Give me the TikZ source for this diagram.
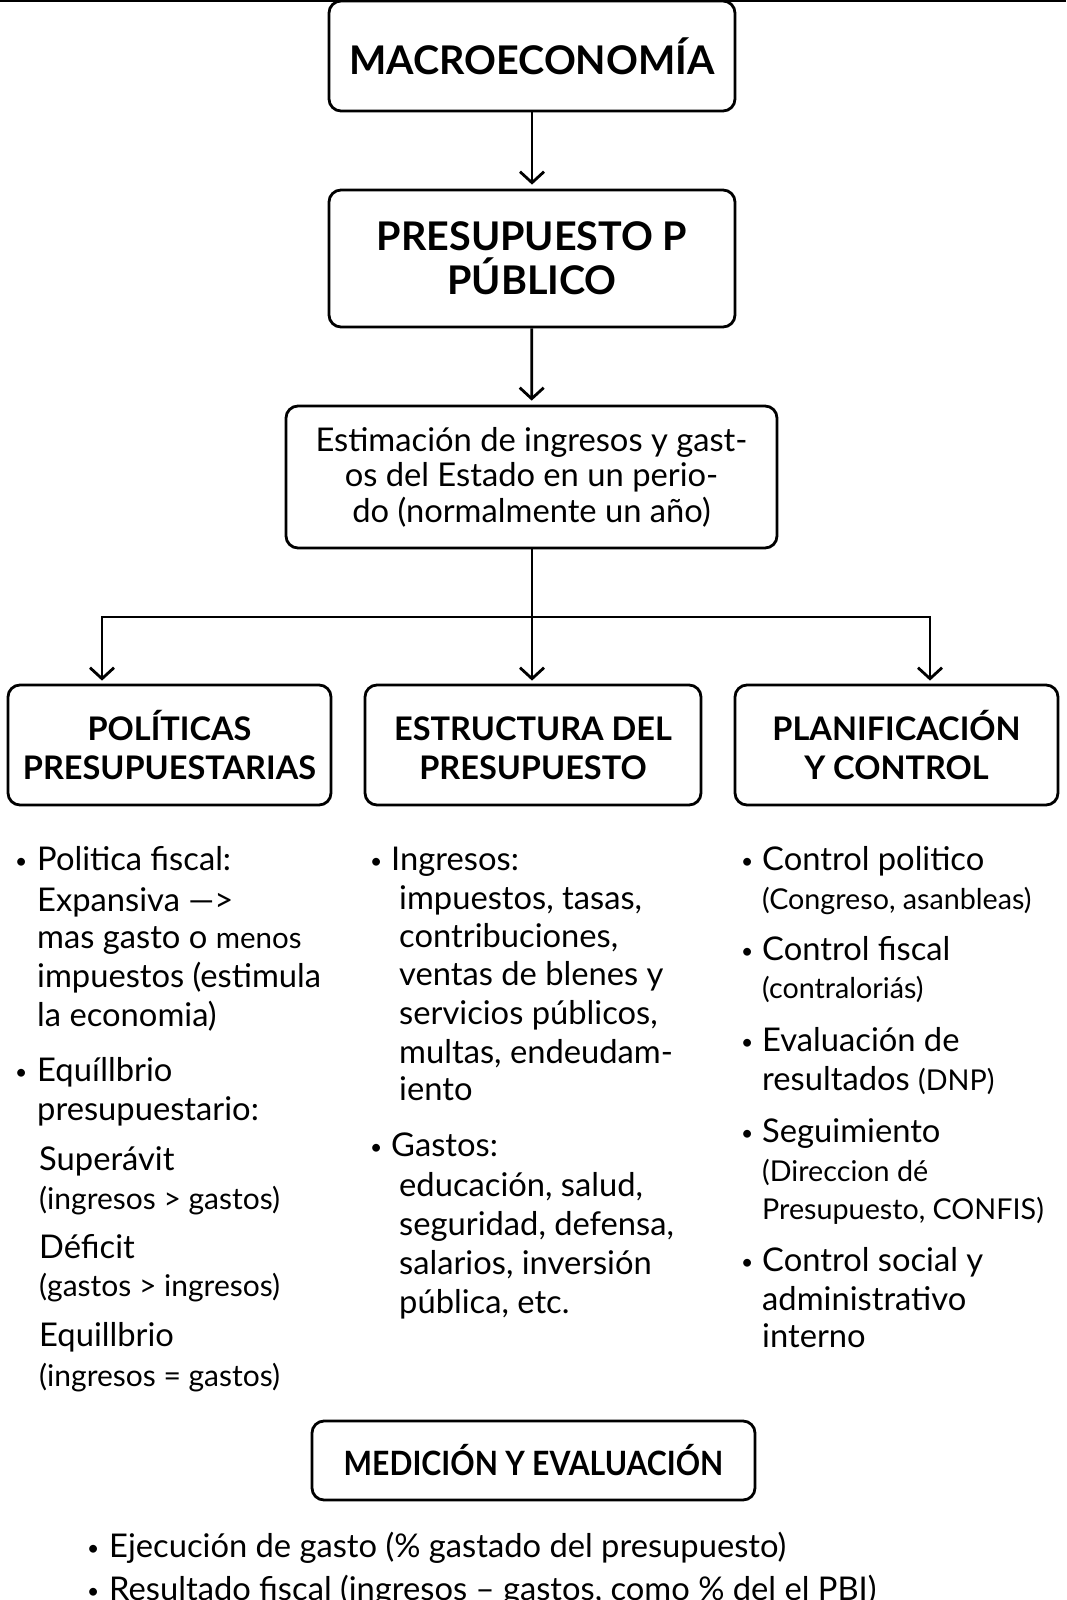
\documentclass[tikz,border=0pt]{standalone}
\usepackage{fontspec}
\setmainfont{Lato}
\usetikzlibrary{arrows.meta}
\tikzset{
  box/.style={draw, line width=2.8pt, rounded corners=12pt, align=center, inner sep=0pt},
  arr/.style={line width=2.8pt, -{Straight Barb[length=11pt,width=24pt]}},
  ln/.style={line width=2.8pt},
  big/.style={font=\fontsize{39.5}{44}\selectfont\bfseries},
  subh/.style={font=\fontsize{32.5}{39}\selectfont\bfseries},
  txt/.style={anchor=mid west, inner sep=0pt, font=\fontsize{32.7}{38}\selectfont},
  sml/.style={anchor=mid west, inner sep=0pt, font=\fontsize{30}{34}\selectfont},
  smr/.style={anchor=mid west, inner sep=0pt, font=\fontsize{28.7}{34}\selectfont},
  bul/.style={anchor=mid west, inner sep=0pt, font=\fontsize{21}{24}\selectfont}
}
\begin{document}
\begin{tikzpicture}[x=1pt,y=-1pt]
\useasboundingbox (0,0) rectangle (1066,1600);
\coordinate (tl) at (0,0.8);
\coordinate (tr) at (1066,0.8);
\draw[line width=1.5pt] (tl) -- (tr);

% main boxes
\node[box, big, minimum width=406pt, minimum height=110pt] (macro) at (532,56) {MACROECONOMÍA};
\node[box, big, minimum width=406pt, minimum height=137pt] (presup) at (532,258.5) {PRESUPUESTO P\\[0pt]PÚBLICO};
\node[box, font=\fontsize{32.7}{35.5}\selectfont, minimum width=491pt, minimum height=142pt] (estim) at (531.5,477) {Estimación de ingresos y gast-\\os del Estado en un perio-\\do (normalmente un año)};

\node[box, subh, minimum width=323pt, minimum height=120pt] (polit) at (169.5,745) {POLÍTICAS\\PRESUPUESTARIAS};
\node[box, subh, minimum width=336pt, minimum height=120pt] (estruc) at (533,745) {\vphantom{Í}ESTRUCTURA DEL\\PRESUPUESTO};
\node[box, subh, minimum width=323pt, minimum height=120pt] (plan) at (896.5,745) {PLANIFICACIÓN\\Y CONTROL};

\node[box, font=\fontsize{33.5}{38}\selectfont\bfseries, minimum width=443pt, minimum height=79pt] (medic) at (533.5,1460.5) {\scalebox{0.9}[1]{MEDICIÓN Y EVALUACIÓN}};

% connectors
\draw[arr, shorten >=4pt] (macro) -- (presup);
\draw[arr, shorten >=4pt] (presup) -- (estim);
\coordinate (jn) at (532,617);
\coordinate (jl) at (102,617);
\coordinate (jr) at (930,617);
\draw[ln] (estim.south -| jn) -- (jn);
\draw[ln, line cap=rect] (jl) -- (jr);
\draw[arr, shorten >=3pt] (jl) -- (jl |- polit.north);
\draw[arr, shorten >=3pt] (jn) -- (jn |- estruc.north);
\draw[arr, shorten >=3pt] (jr) -- (jr |- plan.north);

% left column
\node[bul] (lb1) at (15,866) {•};
\node[txt] (l1) at (37,868) {Politica fiscal:};
\node[txt] (l2) at (37,909) {Expansiva —>};
\node[txt] (l3) at (37,946) {mas gasto o {\fontsize{29.5}{30}\selectfont menos}};
\node[txt] (l4) at (37,985) {impuestos (estimula};
\node[txt] (l5) at (37,1024) {la economia)};
\node[bul] (lb2) at (15,1077) {•};
\node[txt] (l6) at (37,1079) {Equíllbrio};
\node[txt] (l7) at (37,1118) {presupuestario:};
\node[txt] (l8) at (39,1168) {Superávit};
\node[sml] (l9) at (39,1207) {(ingresos > gastos)};
\node[txt] (l10) at (39,1256) {Déficit};
\node[sml] (l11) at (39,1294) {(gastos > ingresos)};
\node[txt] (l12) at (39,1344) {Equillbrio};
\node[sml] (l13) at (39,1384) {(ingresos = gastos)};

% middle column
\node[bul] (mb1) at (370,866) {•};
\node[txt] (m1) at (391,868) {Ingresos:};
\node[txt] (m2) at (399,907) {impuestos, tasas,};
\node[txt] (m3) at (399,945) {contribuciones,};
\node[txt] (m4) at (399,983) {ventas de blenes y};
\node[txt] (m5) at (399,1022) {servicios públicos,};
\node[txt] (m6) at (399,1061) {multas, endeudam-};
\node[txt] (m7) at (399,1098) {iento};
\node[bul] (mb2) at (370,1152) {•};
\node[txt] (m8) at (391,1154) {Gastos:};
\node[txt] (m9) at (399,1194) {educación, salud,};
\node[txt] (m10) at (399,1233) {seguridad, defensa,};
\node[txt] (m11) at (399,1272) {salarios, inversión};
\node[txt] (m12) at (399,1311) {pública, etc.};

% right column
\node[bul] (rb1) at (741,866) {•};
\node[txt] (r1) at (762,868) {Control politico};
\node[smr] (r2) at (762,907) {(Congreso, asanbleas)};
\node[bul] (rb2) at (741,956) {•};
\node[txt] (r3) at (762,958) {Control fiscal};
\node[smr] (r4) at (762,996) {(contraloriás)};
\node[bul] (rb3) at (741,1047) {•};
\node[txt] (r5) at (762,1049) {Evaluación de};
\node[txt] (r6) at (762,1088) {resultados {\fontsize{28.7}{30}\selectfont (DNP)}};
\node[bul] (rb4) at (741,1138) {•};
\node[txt] (r7) at (762,1140) {Seguimiento};
\node[smr] (r8) at (762,1179) {(Direccion dé};
\node[smr] (r9) at (762,1217) {Presupuesto, CONFIS)};
\node[bul] (rb5) at (741,1267) {•};
\node[txt] (r10) at (762,1269) {Control social y};
\node[txt] (r11) at (762,1308) {administrativo};
\node[txt] (r12) at (762,1345) {interno};

% bottom
\node[bul] (bb1) at (87,1553) {•};
\node[txt] (b1) at (109,1555) {Ejecución de gasto (\% gastado del presupuesto)};
\node[bul] (bb2) at (87,1596) {•};
\node[txt] (b2) at (109,1598) {Resultado fiscal (ingresos – gastos, como \% del el PBI)};
\end{tikzpicture}
\end{document}
